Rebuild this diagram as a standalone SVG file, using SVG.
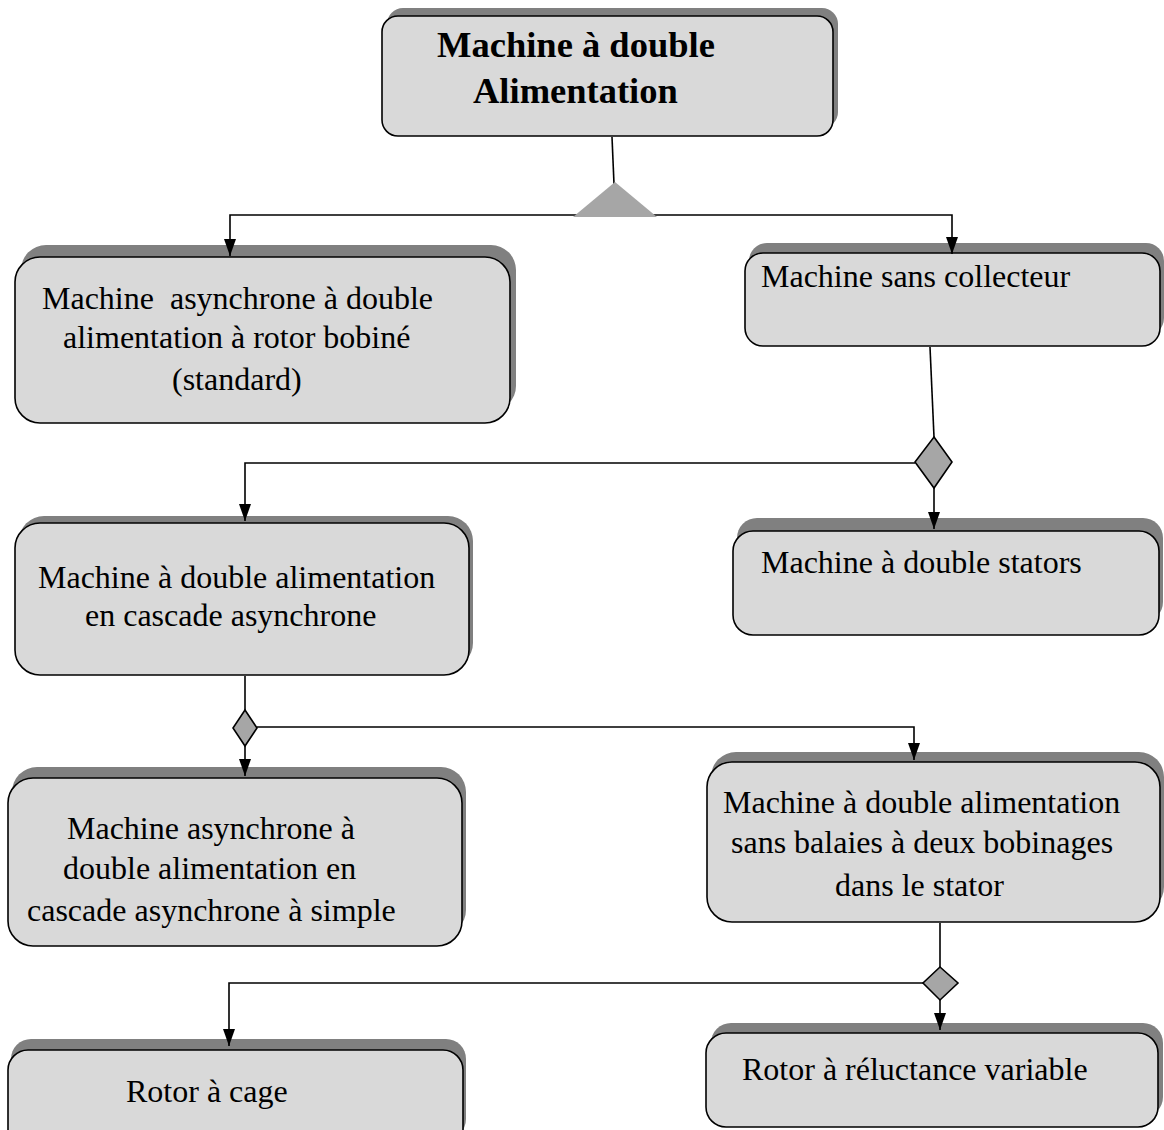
<svg xmlns="http://www.w3.org/2000/svg" width="1164" height="1130" viewBox="0 0 1164 1130">
<style>
.sh{fill:#808080}
.bx{fill:#d9d9d9;stroke:#000;stroke-width:1.6}
.t{font-family:"Liberation Serif","Times New Roman",serif;font-size:32px;fill:#000}
.tb{font-family:"Liberation Serif","Times New Roman",serif;font-size:36.5px;font-weight:bold;fill:#000}
.c{fill:none;stroke:#000;stroke-width:1.6}
.dm{fill:#a6a6a6;stroke:#000;stroke-width:1.6}
</style>
<defs>
<marker id="ah" markerUnits="userSpaceOnUse" markerWidth="18" markerHeight="14" refX="17" refY="7" orient="auto" overflow="visible"><path d="M0,1 L17,7 L0,13 z" fill="#000"/></marker>
</defs>
<rect width="1164" height="1130" fill="#fff"/>
<g id="node-root">
<rect class="sh" x="387" y="8" width="451" height="120" rx="16"/>
<rect class="bx" x="382" y="16" width="451" height="120" rx="16"/>
<text class="tb" x="437" y="57">Machine à double</text>
<text class="tb" x="473" y="103">Alimentation</text>
</g>
<g id="node-rotor-bobine">
<rect class="sh" x="21" y="245" width="495" height="166" rx="25"/>
<rect class="bx" x="15" y="257" width="495" height="166" rx="25"/>
<text class="t" x="42" y="309" xml:space="preserve">Machine  asynchrone à double</text>
<text class="t" x="63" y="348">alimentation à rotor bobiné</text>
<text class="t" x="172" y="390">(standard)</text>
</g>
<g id="node-sans-collecteur">
<rect class="sh" x="749" y="243" width="415" height="93" rx="18"/>
<rect class="bx" x="745" y="253" width="415" height="93" rx="18"/>
<text class="t" x="761" y="287">Machine sans collecteur</text>
</g>
<g id="node-cascade">
<rect class="sh" x="19" y="516" width="454" height="152" rx="25"/>
<rect class="bx" x="15" y="523" width="454" height="152" rx="25"/>
<text class="t" x="38" y="588">Machine à double alimentation</text>
<text class="t" x="85" y="626">en cascade asynchrone</text>
</g>
<g id="node-double-stators">
<rect class="sh" x="737" y="518" width="426" height="104" rx="20"/>
<rect class="bx" x="733" y="531" width="426" height="104" rx="20"/>
<text class="t" x="761" y="573">Machine à double stators</text>
</g>
<g id="node-cascade-simple">
<rect class="sh" x="12" y="767" width="454" height="168" rx="25"/>
<rect class="bx" x="8" y="778" width="454" height="168" rx="25"/>
<text class="t" x="67" y="839">Machine asynchrone à</text>
<text class="t" x="63" y="879">double alimentation en</text>
<text class="t" x="27" y="921">cascade asynchrone à simple</text>
</g>
<g id="node-sans-balaies">
<rect class="sh" x="711" y="752" width="453" height="160" rx="25"/>
<rect class="bx" x="707" y="762" width="453" height="160" rx="25"/>
<text class="t" x="723" y="813">Machine à double alimentation</text>
<text class="t" x="731" y="853">sans balaies à deux bobinages</text>
<text class="t" x="835" y="896">dans le stator</text>
</g>
<g id="node-rotor-cage">
<rect class="sh" x="11" y="1039" width="455" height="100" rx="20"/>
<rect class="bx" x="8" y="1050" width="455" height="100" rx="20"/>
<text class="t" x="126" y="1102">Rotor à cage</text>
</g>
<g id="node-reluctance">
<rect class="sh" x="711" y="1023" width="452" height="94" rx="20"/>
<rect class="bx" x="706" y="1033" width="452" height="94" rx="20"/>
<text class="t" x="742" y="1080">Rotor à réluctance variable</text>
</g>
<g id="connectors">
<line class="c" x1="612" y1="137" x2="614" y2="184"/>
<path class="c" d="M615,215 H230 V256" marker-end="url(#ah)"/>
<path class="c" d="M615,215 H952 V254" marker-end="url(#ah)"/>
<polygon points="615,182 573,217 657,217" fill="#a6a6a6"/>
<line class="c" x1="930" y1="347" x2="934" y2="437"/>
<path class="c" d="M915,463 H245 V521" marker-end="url(#ah)"/>
<path class="c" d="M934,488 V529" marker-end="url(#ah)"/>
<polygon class="dm" points="934,437 952,462 934,488 915,462"/>
<line class="c" x1="245" y1="676" x2="245" y2="710"/>
<path class="c" d="M257,727 H914 V760" marker-end="url(#ah)"/>
<path class="c" d="M245,746 V776" marker-end="url(#ah)"/>
<polygon class="dm" points="245,710 257,728 245,746 233,728"/>
<line class="c" x1="940" y1="923" x2="940" y2="967"/>
<path class="c" d="M923,983 H229 V1046" marker-end="url(#ah)"/>
<path class="c" d="M940,1000 V1030" marker-end="url(#ah)"/>
<polygon class="dm" points="940,967 958,983 940,1000 923,983"/>
</g>
</svg>
